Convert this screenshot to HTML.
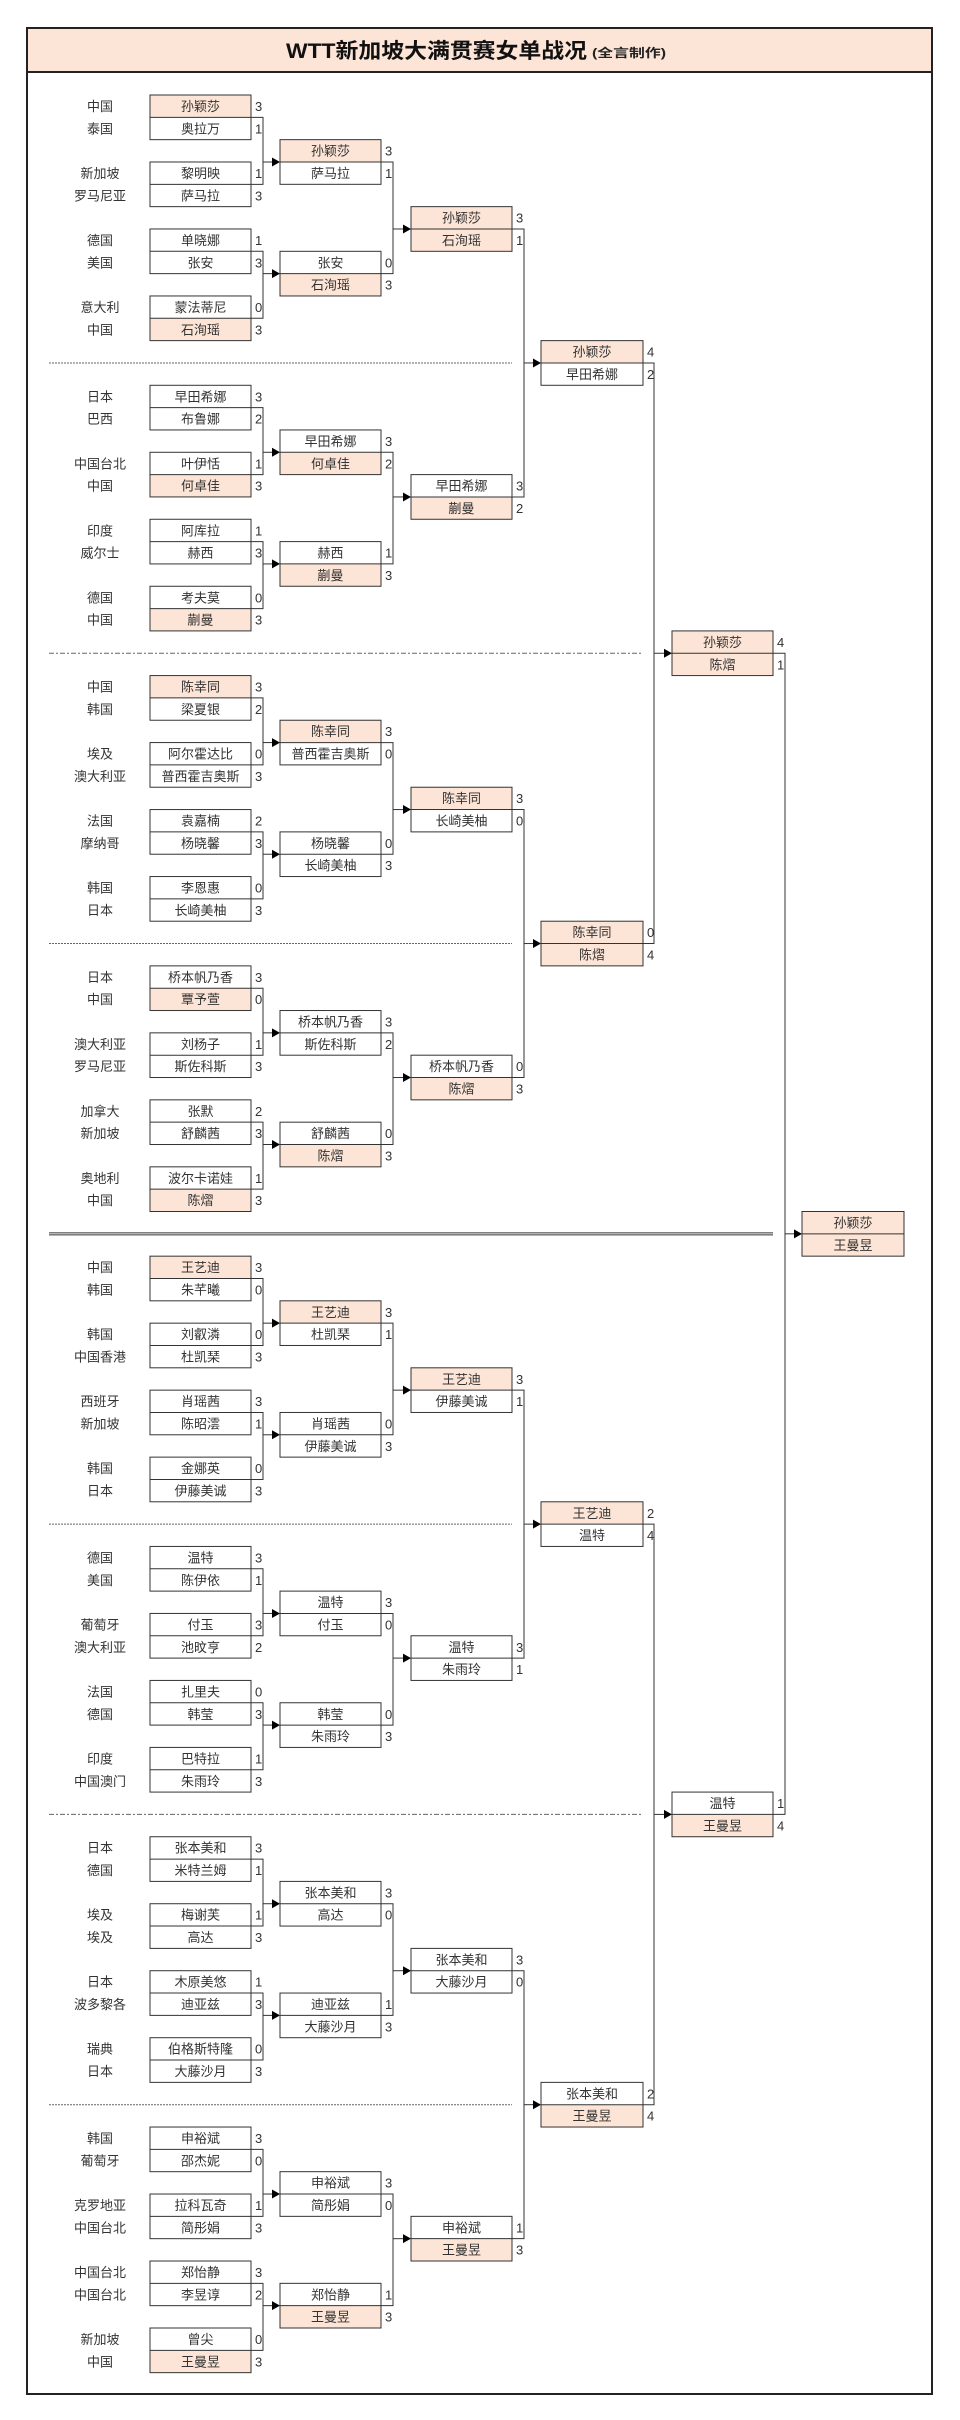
<!DOCTYPE html>
<html><head><meta charset="utf-8">
<style>
html,body{margin:0;padding:0;background:#fff;}
svg{display:block;}
text{font-family:"Liberation Sans","Noto Sans CJK SC",sans-serif;}
</style></head>
<body>
<svg id="s" xmlns="http://www.w3.org/2000/svg" width="960" height="2420" viewBox="0 0 960 2420">
<rect x="0" y="0" width="960" height="2420" fill="#fff"/>
<rect x="27" y="28" width="905" height="44" fill="#FCE4D6"/>
<rect x="27" y="28" width="905" height="2366" fill="none" stroke="#222" stroke-width="2"/>
<line x1="27" y1="72" x2="932" y2="72" stroke="#222" stroke-width="2"/>
<text x="286" y="58" font-size="21" font-weight="bold" fill="#111" textLength="301" lengthAdjust="spacingAndGlyphs">WTT新加坡大满贯赛女单战况</text>
<text x="592" y="57" font-size="12" font-weight="bold" fill="#222" textLength="74" lengthAdjust="spacingAndGlyphs">(全言制作)</text>
<g id="g"></g>
</svg>
<script>
var R=22.33,T=95;function y(r){return T+r*R;}
var g=document.getElementById('g'),NS='http://www.w3.org/2000/svg';
function el(n,a,t){var e=document.createElementNS(NS,n);for(var k in a)e.setAttribute(k,a[k]);if(t!=null)e.textContent=t;g.appendChild(e);return e;}
var HL='#FCE4D6';
function box(x,w,r,n1,h1,s1,n2,h2,s2){
  var y0=y(r),y1=y(r+1),y2=y(r+2);
  el('rect',{x:x,y:y0,width:w,height:y1-y0,fill:h1?HL:'#fff'});
  el('rect',{x:x,y:y1,width:w,height:y2-y1,fill:h2?HL:'#fff'});
  el('rect',{x:x,y:y0,width:w,height:y2-y0,fill:'none',stroke:'#333','stroke-width':1});
  el('line',{x1:x,y1:y1,x2:x+w,y2:y1,stroke:'#333','stroke-width':1});
  el('text',{x:x+w/2,y:y0+16,'font-size':13,'text-anchor':'middle',fill:'#333'},n1);
  el('text',{x:x+w/2,y:y1+16,'font-size':13,'text-anchor':'middle',fill:'#333'},n2);
  if(s1!=null)el('text',{x:x+w+4,y:y0+16,'font-size':13,fill:'#333'},s1);
  if(s2!=null)el('text',{x:x+w+4,y:y1+16,'font-size':13,fill:'#333'},s2);
}
function conn(xr,xc,xd,yA,yB,yD){
  var st={stroke:'#333','stroke-width':1,fill:'none'};
  el('polyline',Object.assign({points:xr+','+yA+' '+xc+','+yA+' '+xc+','+yB+' '+xr+','+yB},st));
  el('line',Object.assign({x1:xc,y1:yD,x2:xd-7,y2:yD},st));
  el('polygon',{points:(xd-8)+','+(yD-4.5)+' '+xd+','+yD+' '+(xd-8)+','+(yD+4.5),fill:'#000'});
}
var Q=[
 {r1:[["中国","孙颖莎",1,3,"泰国","奥拉万",0,1],["新加坡","黎明映",0,1,"罗马尼亚","萨马拉",0,3],["德国","单晓娜",0,1,"美国","张安",0,3],["意大利","蒙法蒂尼",0,0,"中国","石洵瑶",1,3]],
  r2:[["孙颖莎",1,3,"萨马拉",0,1],["张安",0,0,"石洵瑶",1,3]],r3:["孙颖莎",1,3,"石洵瑶",1,1]},
 {r1:[["日本","早田希娜",0,3,"巴西","布鲁娜",0,2],["中国台北","叶伊恬",0,1,"中国","何卓佳",1,3],["印度","阿库拉",0,1,"威尔士","赫西",0,3],["德国","考夫莫",0,0,"中国","蒯曼",1,3]],
  r2:[["早田希娜",0,3,"何卓佳",1,2],["赫西",0,1,"蒯曼",1,3]],r3:["早田希娜",0,3,"蒯曼",1,2]},
 {r1:[["中国","陈幸同",1,3,"韩国","梁夏银",0,2],["埃及","阿尔霍达比",0,0,"澳大利亚","普西霍吉奥斯",0,3],["法国","袁嘉楠",0,2,"摩纳哥","杨晓馨",0,3],["韩国","李恩惠",0,0,"日本","长崎美柚",0,3]],
  r2:[["陈幸同",1,3,"普西霍吉奥斯",0,0],["杨晓馨",0,0,"长崎美柚",0,3]],r3:["陈幸同",1,3,"长崎美柚",0,0]},
 {r1:[["日本","桥本帆乃香",0,3,"中国","覃予萱",1,0],["澳大利亚","刘杨子",0,1,"罗马尼亚","斯佐科斯",0,3],["加拿大","张默",0,2,"新加坡","舒麟茜",0,3],["奥地利","波尔卡诺娃",0,1,"中国","陈熠",1,3]],
  r2:[["桥本帆乃香",0,3,"斯佐科斯",0,2],["舒麟茜",0,0,"陈熠",1,3]],r3:["桥本帆乃香",0,0,"陈熠",1,3]},
 {r1:[["中国","王艺迪",1,3,"韩国","朱芊曦",0,0],["韩国","刘叡潾",0,0,"中国香港","杜凯琹",0,3],["西班牙","肖瑶茜",0,3,"新加坡","陈昭澐",0,1],["韩国","金娜英",0,0,"日本","伊藤美诚",0,3]],
  r2:[["王艺迪",1,3,"杜凯琹",0,1],["肖瑶茜",0,0,"伊藤美诚",0,3]],r3:["王艺迪",1,3,"伊藤美诚",0,1]},
 {r1:[["德国","温特",0,3,"美国","陈伊依",0,1],["葡萄牙","付玉",0,3,"澳大利亚","池旼亨",0,2],["法国","扎里夫",0,0,"德国","韩莹",0,3],["印度","巴特拉",0,1,"中国澳门","朱雨玲",0,3]],
  r2:[["温特",0,3,"付玉",0,0],["韩莹",0,0,"朱雨玲",0,3]],r3:["温特",0,3,"朱雨玲",0,1]},
 {r1:[["日本","张本美和",0,3,"德国","米特兰姆",0,1],["埃及","梅谢芙",0,1,"埃及","高达",0,3],["日本","木原美悠",0,1,"波多黎各","迪亚兹",0,3],["瑞典","伯格斯特隆",0,0,"日本","大藤沙月",0,3]],
  r2:[["张本美和",0,3,"高达",0,0],["迪亚兹",0,1,"大藤沙月",0,3]],r3:["张本美和",0,3,"大藤沙月",0,0]},
 {r1:[["韩国","申裕斌",0,3,"葡萄牙","邵杰妮",0,0],["克罗地亚","拉科瓦奇",0,1,"中国台北","简彤娟",0,3],["中国台北","郑怡静",0,3,"中国台北","李昱谆",0,2],["新加坡","曾尖",0,0,"中国","王曼昱",1,3]],
  r2:[["申裕斌",0,3,"简彤娟",0,0],["郑怡静",0,1,"王曼昱",1,3]],r3:["申裕斌",0,1,"王曼昱",1,3]}
];
var QF=[["孙颖莎",1,4,"早田希娜",0,2],["陈幸同",1,0,"陈熠",1,4],["王艺迪",1,2,"温特",0,4],["张本美和",0,2,"王曼昱",1,4]];
var SF=[["孙颖莎",1,4,"陈熠",1,1],["温特",0,1,"王曼昱",1,4]];
for(var q=0;q<7;q++){
  var ly=y(13*q+12);
  if(q==3){el('line',{x1:49,y1:ly-1,x2:773,y2:ly-1,stroke:'#333','stroke-width':1});el('line',{x1:49,y1:ly+1,x2:773,y2:ly+1,stroke:'#333','stroke-width':1});}
  else if(q%2==0)el('line',{x1:49,y1:ly,x2:512,y2:ly,stroke:'#666','stroke-width':1,'stroke-dasharray':'2,1'});
  else el('line',{x1:49,y1:ly,x2:643,y2:ly,stroke:'#666','stroke-width':1,'stroke-dasharray':'5,2,2,2'});
}
var r3b=[];
for(var q=0;q<8;q++){
  var b=13*q,d=Q[q];
  for(var m=0;m<4;m++){
    var a=d.r1[m],r=b+3*m;
    el('text',{x:100,y:y(r)+16,'font-size':13,'text-anchor':'middle',fill:'#333'},a[0]);
    el('text',{x:100,y:y(r+1)+16,'font-size':13,'text-anchor':'middle',fill:'#333'},a[4]);
    box(150,101,r,a[1],a[2],a[3],a[5],a[6],a[7]);
  }
  conn(251,263,280,y(b+1),y(b+4),y(b+3));
  conn(251,263,280,y(b+7),y(b+10),y(b+8));
  var k0=d.r2[0],k1=d.r2[1];
  box(280,101,b+2,k0[0],k0[1],k0[2],k0[3],k0[4],k0[5]);
  box(280,101,b+7,k1[0],k1[1],k1[2],k1[3],k1[4],k1[5]);
  var r3r=(q%2==0)?b+5:b+4;
  conn(381,393,411,y(b+3),y(b+8),y(r3r+1));
  var c=d.r3;box(411,101,r3r,c[0],c[1],c[2],c[3],c[4],c[5]);
  r3b.push(y(r3r+1));
}
for(var p=0;p<4;p++){
  conn(512,524,541,r3b[2*p],r3b[2*p+1],y(26*p+12));
  var c=QF[p];box(541,102,26*p+11,c[0],c[1],c[2],c[3],c[4],c[5]);
}
for(var h=0;h<2;h++){
  conn(643,654,672,y(52*h+12),y(52*h+38),y(52*h+25));
  var c=SF[h];box(672,101,52*h+24,c[0],c[1],c[2],c[3],c[4],c[5]);
}
conn(773,785,802,y(25),y(77),y(51));
box(802,102,50,"孙颖莎",1,null,"王曼昱",1,null);
</script>
</body></html>
